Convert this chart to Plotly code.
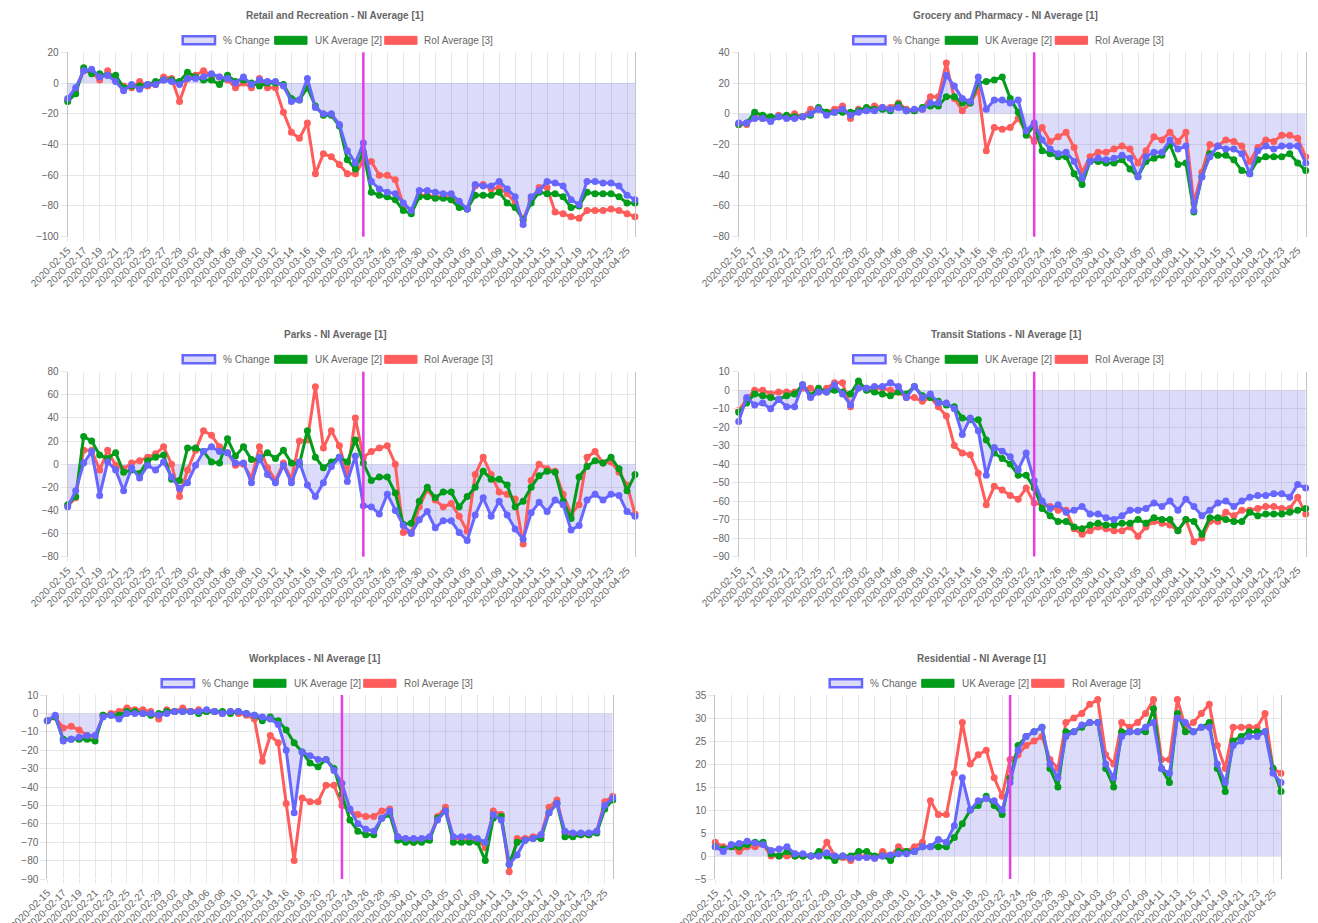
import plotly.graph_objects as go
import pandas as pd

# ---------------- data ----------------
DATES = [d.strftime("%Y-%m-%d") for d in pd.date_range("2020-02-15", "2020-04-26")]
TICKS = DATES[::2]
LOCKDOWN = "2020-03-23"
SERIES_NAMES = ["% Change", "UK Average [2]", "RoI Average [3]"]

RETAIL_NI = [-10, -3, 8, 9, 4, 5, 1, -5, -1, -4, -1, -1, 2, 1, -1, 3, 3, 4, 6, 4, 3, 0, 4, -1, 2, 1, 1, -2, -12, -11,
             3, -16, -20, -20, -27, -44, -52, -39, -64, -69, -71, -72, -78, -83, -70, -70, -71, -72, -72, -77,
             -82, -66, -67, -67, -64, -69, -74, -92, -74, -70, -64, -65, -67, -76, -79, -64, -64, -65, -65, -67, -73, -76]
RETAIL_UK = [-12, -7, 10, 6, 6, 5, 5, -3, -2, -2, -1, 1, 2, 2, 1, 7, 4, 2, 2, -1, 5, 1, 2, 0, -2, 0, 0, -1, -10, -11,
             -3, -15, -21, -21, -28, -50, -56, -45, -71, -73, -74, -76, -83, -85, -74, -74, -75, -75, -76, -81,
             -82, -73, -73, -73, -71, -78, -81, -89, -78, -71, -72, -72, -74, -81, -80, -71, -72, -72, -72, -74, -78, -78]
RETAIL_ROI = [-11, -5, 8, 7, 2, 8, 2, -2, -3, 1, -2, -1, 4, 3, -12, 3, 5, 8, 5, 4, 2, -3, 0, -3, 3, -3, -3, -19, -32, -36,
              -26, -59, -46, -48, -53, -59, -59, -51, -51, -60, -60, -63, -79, -83, -73, -73, -74, -74, -74, -78,
              -82, -67, -66, -69, -68, -72, -78, -89, -76, -68, -68, -84, -85, -87, -88, -83, -83, -83, -82, -83, -85, -87]

GROCERY_NI = [-6, -6, -3, -3, -5, -2, -3, -3, -2, 0, 3, -1, 1, 3, -1, 1, 2, 2, 4, 3, 4, 2, 3, 3, 7, 7, 25, 18, 10, 8,
              24, 3, 9, 9, 7, 9, -11, -6, -17, -23, -26, -25, -31, -42, -31, -29, -30, -29, -27, -29,
              -41, -28, -25, -25, -17, -23, -21, -63, -41, -28, -21, -23, -23, -26, -39, -24, -21, -23, -21, -21, -21, -32]
GROCERY_UK = [-7, -6, 1, -1, -2, -2, -1, -2, -2, -1, 4, 1, 1, 1, 1, 2, 4, 3, 3, 2, 6, 2, 2, 4, 5, 5, 11, 11, 7, 7,
              20, 21, 22, 24, 10, 1, -14, -8, -24, -26, -28, -28, -39, -46, -31, -31, -32, -32, -30, -36,
              -41, -31, -29, -27, -20, -33, -32, -64, -41, -26, -27, -27, -30, -37, -39, -30, -28, -28, -28, -26, -32, -37]
GROCERY_ROI = [-7, -7, -2, -3, -3, -1, -2, 0, -2, 3, 3, 1, 3, 5, -3, 3, 3, 5, 4, 4, 7, 3, 2, 3, 11, 11, 33, 10, 2, 7,
               16, -24, -9, -10, -9, -3, -12, -18, -9, -18, -15, -12, -22, -38, -28, -25, -25, -23, -21, -23,
               -32, -24, -15, -17, -12, -18, -12, -58, -38, -20, -21, -17, -18, -21, -31, -22, -17, -18, -14, -14, -16, -28]

PARKS_NI = [-37, -23, 1, 11, -27, 2, -5, -23, -3, -12, -1, -5, 2, -11, -21, -16, -1, 11, 15, 11, 10, 1, 1, -16, 6, -9,
            -16, -1, -16, 2, -18, -28, -16, -2, 6, -15, 7, -36, -37, -43, -26, -40, -53, -60, -48, -41, -55, -49,
            -49, -59, -66, -44, -29, -45, -32, -44, -56, -65, -42, -33, -41, -31, -35, -57, -53, -31, -26, -31, -26, -27, -41, -45]
PARKS_UK = [-35, -28, 24, 20, 8, 5, 10, -7, -5, -8, 3, 6, 8, -13, -14, 14, 14, 11, 2, 1, 22, 7, 15, 4, 4, 10, 5, 12, 1,
            0, 29, 6, -3, 2, 6, 2, 21, 1, -14, -11, -11, -25, -52, -51, -32, -20, -29, -24, -24, -37, -28, -20, -6,
            -13, -13, -18, -37, -32, -20, -10, -6, -7, -32, -47, -11, -2, 3, 1, 6, -4, -23, -9]
PARKS_ROI = [-36, -29, 12, 12, -5, 12, -1, -4, 1, 3, 6, 9, 15, 0, -28, -5, 12, 29, 25, 15, 10, -1, 0, -12, 15, -3, -14,
             1, -13, 20, 21, 67, 14, 29, 16, -9, 40, 6, 11, 14, 16, 0, -59, -59, -37, -22, -31, -37, -34, -45, -58,
             -9, 6, -9, -24, -26, -30, -69, -14, 0, -4, -6, -26, -43, -35, 6, 11, 1, 2, -7, -18, -43]

TRANSIT_NI = [-17, -4, -8, -7, -10, -5, -9, -9, 3, -4, -1, -1, 3, -2, -8, 1, 1, 2, 2, 4, 2, -4, 2, -4, -2, -7, -7, -10,
              -24, -15, -22, -46, -31, -33, -36, -43, -34, -49, -60, -64, -62, -66, -65, -63, -67, -67, -69, -70,
              -68, -65, -65, -64, -61, -63, -60, -65, -59, -63, -68, -65, -61, -60, -63, -60, -58, -57, -57, -56, -56, -58, -51, -53]
TRANSIT_UK = [-12, -7, -2, -3, -4, -5, -3, -2, 3, -3, 1, -1, 0, -1, -2, 5, 0, -1, -2, -3, -1, -2, 2, -3, -4, -6, -8, -9,
              -15, -16, -16, -27, -34, -37, -40, -46, -46, -53, -64, -68, -71, -71, -74, -75, -73, -72, -73, -73,
              -72, -72, -70, -72, -69, -70, -70, -76, -70, -71, -78, -69, -69, -70, -71, -71, -66, -68, -67, -67, -67, -66, -65, -64]
TRANSIT_ROI = [-11, -5, 0, 0, -2, -1, -1, -1, 1, 1, -1, 1, 4, 4, -9, 2, 1, 1, 1, 0, -1, -4, -4, -6, -4, -9, -14, -30,
               -34, -35, -45, -62, -52, -54, -57, -59, -53, -61, -62, -63, -65, -65, -75, -78, -76, -74, -75, -76,
               -76, -74, -79, -74, -71, -72, -73, -76, -70, -82, -80, -71, -71, -66, -68, -65, -65, -64, -63, -63, -64, -64, -58, -67]

WORK_NI = [-4, -1, -15, -14, -13, -12, -12, -2, -1, -3, 0, 0, 0, 0, -1, 0, 1, 1, 1, 1, 2, 1, 0, 1, 1, 0, -1, -2, -3, -6,
           -20, -54, -21, -23, -25, -25, -31, -38, -52, -60, -63, -64, -57, -53, -67, -68, -68, -68, -67, -58, -53,
           -67, -67, -67, -68, -70, -55, -58, -82, -77, -69, -68, -66, -54, -49, -64, -65, -65, -65, -64, -50, -46]
WORK_UK = [-4, -2, -14, -14, -14, -14, -15, -1, -1, -1, 1, 1, 0, -1, 0, 1, 1, 1, 1, 0, 1, 1, 1, 0, 1, 0, -1, -4, -2, -4,
           -9, -16, -21, -27, -29, -25, -30, -44, -58, -64, -66, -66, -57, -55, -69, -70, -70, -70, -69, -57, -53,
           -70, -70, -70, -70, -80, -57, -56, -82, -70, -69, -68, -68, -54, -49, -67, -67, -66, -66, -65, -52, -47]
WORK_ROI = [-4, -2, -8, -7, -9, -12, -13, -1, 0, 1, 3, 2, 2, 1, -3, 2, 1, 3, 1, 2, 1, 1, 0, 1, 0, -1, -3, -26, -12, -16,
            -49, -80, -46, -48, -48, -39, -39, -50, -53, -55, -56, -56, -53, -52, -67, -69, -70, -69, -68, -56, -51,
            -68, -68, -69, -69, -73, -53, -55, -86, -68, -68, -67, -66, -51, -47, -65, -66, -66, -66, -64, -48, -45]

RES_NI = [2, 1, 2.5, 2.7, 3.2, 2.8, 2.5, 1.2, 1.5, 2, 0.5, 0.5, 0, 0, 0.7, 0, 0, -0.5, -0.3, -0.3, -0.5, 0, 0.2, 0.5,
          0.5, 1, 2, 2, 3.6, 3, 6.6, 17, 10, 12, 12.5, 12, 10, 16, 23, 26, 27, 28, 20, 17, 26, 27, 28.5, 29, 29, 20,
          17, 26, 27, 27, 28, 29, 19, 18, 30, 29, 27, 28, 28, 20, 16, 24, 25, 26, 26, 27, 18, 16]
RES_UK = [2, 1.5, 2, 2, 2.5, 3, 3, 0.5, 0, 1, 0, 0, 0, 1, 0, -1, 0, 0, 1, 1, 0, 0, -1, 1, 1, 1, 2, 2, 2, 2, 4, 7, 10,
          11, 13, 11, 9, 17, 24, 26, 27, 28, 19, 15, 27, 27, 28, 29, 29, 19, 15, 27, 27, 27, 27, 32, 19, 16, 31, 27,
          27, 28, 29, 19, 14, 25, 26, 27, 27, 27, 19, 14]
RES_ROI = [3, 2, 2, 1, 2, 2, 2.5, 0, 0, 0, 0, 0, 0, 0, 3, 0, -0.3, -1, 0, 0, -0.5, 1, 0, 2, 1, 2, 3, 12, 9, 9, 18, 29,
           20, 22, 23, 17, 13, 21, 22, 24, 25, 26, 21, 19, 29, 30, 31, 33, 34, 22, 20, 29, 28, 29, 31, 34, 21, 21, 34,
           28, 29, 31, 33, 24, 19, 28, 28, 28, 28, 31, 19, 18]

# ---------------- styling ----------------
W, H = 1318, 923
BLUE = "#6767ff"
FILL = "rgba(110,110,235,0.24)"
GREEN = "#009c1a"
RED = "#ff5c5c"
MAG = "#e23ee2"
GRID = "#e6e6e6"
TXT = "#666666"
FONT = "Liberation Sans, Arial, sans-serif"
FS = 10
# legend layout offsets (px, relative to legend start) : box start, text start
LEG_BOX_X = [0, 92, 202]
LEG_TXT_X = [39, 131, 241]
LEG_W = 307

panels = [
    dict(title="Retail and Recreation - NI Average [1]", ni=RETAIL_NI, uk=RETAIL_UK, roi=RETAIL_ROI,
         yr=(-100, 20), dt=20, box=(67.7, 635, 52.3, 236.7), cx=335, ty=15.7, ly=40.3),
    dict(title="Grocery and Pharmacy - NI Average [1]", ni=GROCERY_NI, uk=GROCERY_UK, roi=GROCERY_ROI,
         yr=(-80, 40), dt=20, box=(738.7, 1305.7, 52.3, 236.7), cx=1005.5, ty=15.7, ly=40.3),
    dict(title="Parks - NI Average [1]", ni=PARKS_NI, uk=PARKS_UK, roi=PARKS_ROI,
         yr=(-80, 80), dt=20, box=(67.7, 635, 371.7, 556.7), cx=335, ty=334.7, ly=359.3),
    dict(title="Transit Stations - NI Average [1]", ni=TRANSIT_NI, uk=TRANSIT_UK, roi=TRANSIT_ROI,
         yr=(-90, 10), dt=10, box=(738.7, 1305.7, 371.7, 556.5), cx=1005.5, ty=334.7, ly=359.3),
    dict(title="Workplaces - NI Average [1]", ni=WORK_NI, uk=WORK_UK, roi=WORK_ROI,
         yr=(-90, 10), dt=10, box=(47.3, 612.7, 695, 879), cx=314, ty=658.7, ly=683.3),
    dict(title="Residential - NI Average [1]", ni=RES_NI, uk=RES_UK, roi=RES_ROI,
         yr=(-5, 35), dt=5, box=(715.3, 1281, 695, 879), cx=982, ty=658.7, ly=683.3),
]


def fx(px):
    return px / W


def fy(py):
    return 1 - py / H


fig = go.Figure()
shapes = []
annotations = []
layout_axes = {}
lock_idx = DATES.index(LOCKDOWN)

for k, p in enumerate(panels, start=1):
    for arr in (p["ni"], p["uk"], p["roi"]):
        assert len(arr) == len(DATES), (p["title"], len(arr))
    sfx = "" if k == 1 else str(k)
    xa, ya = "x" + sfx, "y" + sfx
    # shaded area of the NI series
    fig.add_trace(go.Scatter(x=DATES, y=p["ni"], xaxis=xa, yaxis=ya, mode="lines", fill="tozeroy",
                             fillcolor=FILL, line=dict(width=0, color=FILL), hoverinfo="skip",
                             showlegend=False))
    for name, arr, col in ((SERIES_NAMES[2], p["roi"], RED), (SERIES_NAMES[1], p["uk"], GREEN),
                           (SERIES_NAMES[0], p["ni"], BLUE)):
        fig.add_trace(go.Scatter(x=DATES, y=arr, xaxis=xa, yaxis=ya, mode="lines+markers", name=name,
                                 line=dict(color=col, width=3), marker=dict(color=col, size=7),
                                 cliponaxis=False, showlegend=False))
    x0, x1, y0, y1 = p["box"]
    layout_axes["xaxis" + sfx] = dict(
        domain=[fx(x0), fx(x1)], anchor=ya, type="category", categoryorder="array", categoryarray=DATES,
        range=[0, len(DATES) - 1], tickmode="array", tickvals=TICKS, ticktext=TICKS, tickangle=-45,
        showgrid=True, gridcolor=GRID, gridwidth=1, ticks="outside", ticklen=3, tickcolor=GRID,
        tickfont=dict(size=FS, color=TXT, family=FONT), showline=False, zeroline=False, fixedrange=True)
    layout_axes["yaxis" + sfx] = dict(
        domain=[fy(y1), fy(y0)], anchor=xa, range=list(p["yr"]), tick0=p["yr"][0], dtick=p["dt"],
        showgrid=True, gridcolor=GRID, gridwidth=1, ticks="outside", ticklen=6, tickcolor=GRID,
        tickfont=dict(size=FS, color=TXT, family=FONT), showline=True, linecolor="#c4c4c4", linewidth=1,
        mirror=True, zeroline=False, fixedrange=True)
    # lockdown marker
    shapes.append(dict(type="line", xref=xa, yref=ya + " domain", x0=lock_idx, x1=lock_idx, y0=0, y1=1,
                       line=dict(color=MAG, width=2.5), layer="above"))
    # title
    annotations.append(dict(text=f"<b>{p['title']}</b>", x=fx(p["cx"]), y=fy(p["ty"]), xref="paper",
                            yref="paper", xanchor="center", yanchor="middle", showarrow=False,
                            font=dict(size=FS, color=TXT, family=FONT)))
    # legend (chart.js style boxes)
    xs = p["cx"] - LEG_W / 2
    styles = [(FILL, BLUE, 2.5), (GREEN, GREEN, 1), (RED, RED, 1)]
    for name, bx, tx, (fc, lc, lw) in zip(SERIES_NAMES, LEG_BOX_X, LEG_TXT_X, styles):
        shapes.append(dict(type="rect", xref="paper", yref="paper", x0=fx(xs + bx + 1.2), x1=fx(xs + bx + 33.5),
                           y0=fy(p["ly"] + 4), y1=fy(p["ly"] - 4), fillcolor=fc,
                           line=dict(color=lc, width=lw)))
        annotations.append(dict(text=name, x=fx(xs + tx), y=fy(p["ly"]), xref="paper", yref="paper",
                                xanchor="left", yanchor="middle", showarrow=False,
                                font=dict(size=FS, color=TXT, family=FONT)))

fig.update_layout(
    width=W, height=H, margin=dict(l=0, r=0, t=0, b=0), template="none",
    paper_bgcolor="white", plot_bgcolor="white", showlegend=False,
    font=dict(family=FONT, size=FS, color=TXT), shapes=shapes, annotations=annotations, **layout_axes)

fig.write_html("out.html", config={"displayModeBar": False},
               post_script="document.body.style.margin='0';document.body.style.overflow='hidden';")
